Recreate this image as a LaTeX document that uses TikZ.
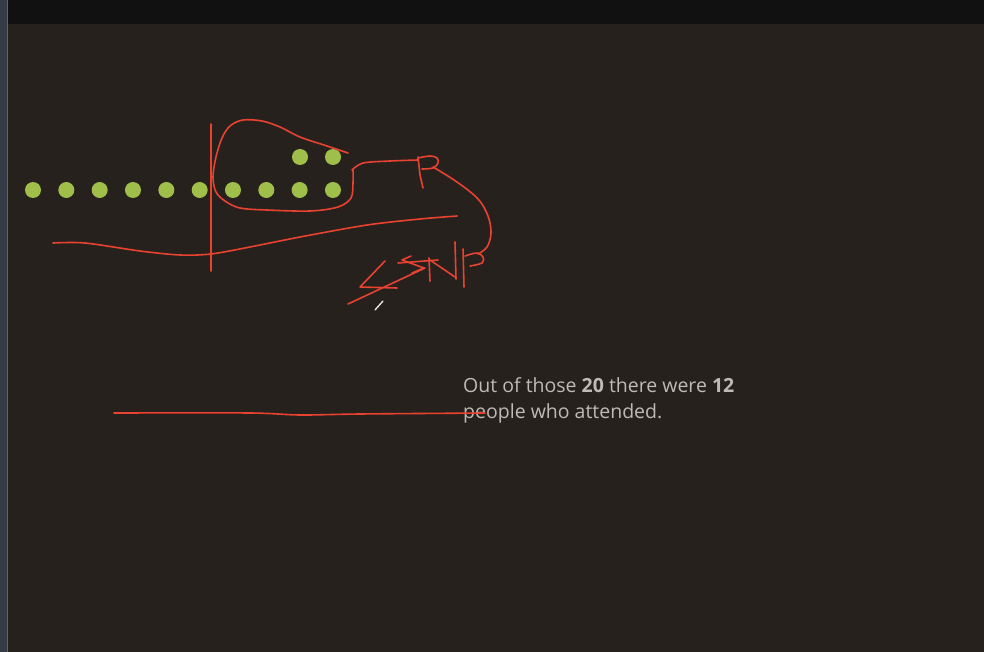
\documentclass[tikz,border=0pt]{standalone}
\usepackage{fontspec}
\setmainfont{Open Sans}
\usetikzlibrary{positioning}
\definecolor{canvas}{RGB}{38,33,29}
\definecolor{topbar}{RGB}{17,17,17}
\definecolor{sidebar}{RGB}{52,59,70}
\definecolor{dotgreen}{RGB}{160,190,74}
\definecolor{penred}{RGB}{232,66,48}
\definecolor{captiongray}{RGB}{190,186,180}

\begin{document}
\begin{tikzpicture}[
    x=1pt, y=-1pt,
    dot/.style={circle, fill=dotgreen, inner sep=0pt, minimum size=16pt},
    ink/.style={draw=penred, line width=1.6pt, line cap=round, line join=round},
    caption/.style={text=captiongray, align=left, inner sep=0pt, anchor=north west,
                    font=\fontsize{19.5}{26}\selectfont}
]
% Screen
\fill[canvas] (0,0) rectangle (984,652);
\useasboundingbox (0,0) rectangle (984,652);
\fill[topbar] (0,0) rectangle (984,24);
\fill[sidebar] (0,0) rectangle (7,652);
\draw[sidebar!80!white, line width=0.8pt] (7.2,0) -- (7.2,652);

% Dots
\foreach \i in {0,...,9}
    \node[dot] (b\i) at ({33+33.33*\i},190) {};
\node[dot] (t1) at (300,157) {};
\node[dot] (t2) at (333,157) {};

% Caption
\node[caption] (note) at (463,377.5)
    {Out of those \textbf{20} there were \textbf{12}\\people who attended.};

% Pen strokes
\draw[ink] (211,124) -- (211,271);
\draw[ink] plot[smooth, tension=0.55] coordinates {(348,153) (327,146) (300,137) (280,127)
    (262,121) (243,120) (230,126) (222,138) (216,157) (213,177) (216,192) (225,201)
    (240,208) (267,210) (310,211) (338,207) (351,198) (353,183) (353,170)};
\draw[ink] plot[smooth, tension=0.5] coordinates {(352,170) (363,163) (390,161) (418,160)};
\draw[ink] plot[smooth, tension=0.5] coordinates {(53,243) (85,243) (140,251) (180,255)
    (211,254) (250,247) (300,237) (367,225) (420,219) (457,216)};
\draw[ink] plot[smooth, tension=0.5] coordinates {(114,413) (250,413) (300,415) (360,414) (485,413)};

% P (top)
\draw[ink] (418,157) -- (420,175) -- (423,188);
\draw[ink] plot[smooth, tension=0.6] coordinates {(418,158) (430,156) (437,158) (438,163)
    (433,168) (422,169)};
\draw[ink] plot[smooth, tension=0.6] coordinates {(433,167) (457,182) (478,199) (488,216)
    (491,233) (487,247) (478,254)};

% SNP
\draw[ink] (385,261) -- (360,287) -- (397,288);
\draw[ink] (348,304) -- (425,268);
\draw[ink] (398,263) -- (438,260);
\draw[ink] (411,256) -- (402,260) -- (424,268) -- (412,273);
\draw[ink] (429,258) -- (430,281);
\draw[ink] (430,260) -- (455,277);
\draw[ink] (455,242) -- (456,279);
\draw[ink] (463,249) -- (464,287);
\draw[ink] plot[smooth, tension=0.6] coordinates {(465,256) (477,253) (483,257) (482,263) (470,266)};

% Pen cursor
\draw[white!85!gray, line width=1.3pt, line cap=round] (375,310) -- (383,301);
\end{tikzpicture}
\end{document}
